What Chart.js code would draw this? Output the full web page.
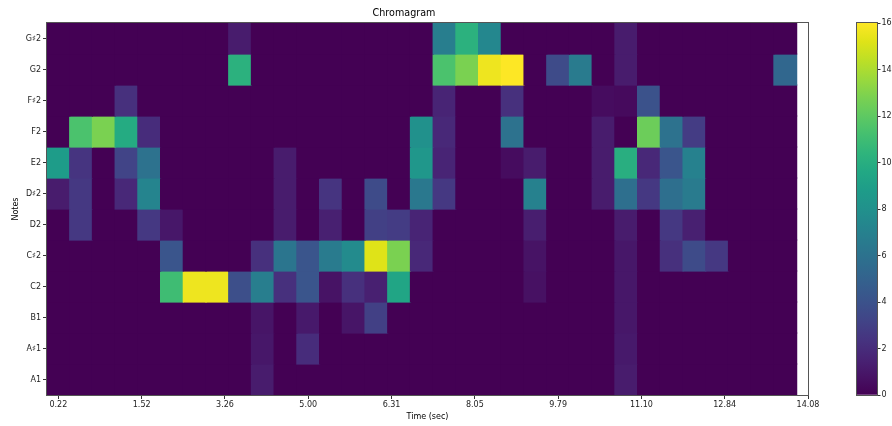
<!DOCTYPE html>
<html>
<head>
<meta charset="utf-8">
<title>Chromagram</title>
<script src="https://cdn.jsdelivr.net/npm/chart.js@4.4.1/dist/chart.umd.min.js"></script>
<style>
  html, body { margin: 0; padding: 0; background: #fff; }
  #wrap { position: relative; width: 892px; height: 426px; overflow: hidden; }
  #main { position: absolute; left: 0; top: 0; }
  #cbar { position: absolute; left: 840px; top: 0; }
</style>
</head>
<body>
<div id="wrap">
  <canvas id="main" width="892" height="426"></canvas>
  <canvas id="cbar" width="52" height="426"></canvas>
</div>
<script>
// Pitch classes, bottom row first
const noteLabels = ['A1', 'A\u266F1', 'B1', 'C2', 'C\u266F2', 'D2', 'D\u266F2', 'E2', 'F2', 'F\u266F2', 'G2', 'G\u266F2'];

// Labels printed under the evenly spaced time ticks
const timeLabels = ['0.22', '1.52', '3.26', '5.00', '6.31', '8.05', '9.79', '11.10', '12.84', '14.08'];

// Colour scale range and its ticks
const colorTicks = [0, 2, 4, 6, 8, 10, 12, 14, 16];

// Chroma energy per frame (33 frames) for each pitch class
const chromaA1  = [0,0,0,0,0,0,0,0,0,1.2, 0,0,0,0,0,0,0,0,0,0, 0,0,0,0,0,1.2,0,0,0,0, 0,0,0];
const chromaAs1 = [0,0,0,0,0,0,0,0,0,1, 0,2,0,0,0,0,0,0,0,0, 0,0,0,0,0,1.1,0,0,0,0, 0,0,0];
const chromaB1  = [0,0,0,0,0,0,0,0,0,0.9, 0,1.1,0,0.9,3,0,0,0,0,0, 0,0,0,0,0,1,0,0,0,0, 0,0,0];
const chromaC2  = [0,0,0,0,0,11,15.6,15.6,3.8,6.8, 2.2,4.2,0.8,2.2,1.4,9.4,0,0,0,0, 0,0.7,0,0,0,1,0,0,0,0, 0,0,0];
const chromaCs2 = [0,0,0,0,0,4.2,0,0,0,2.2, 6.2,4.2,6.6,7.6,15.2,12.8,1.8,0,0,0, 0,0.8,0,0,0,1,0,2.2,3.6,2.6, 0,0,0];
const chromaD2  = [0,2.6,0,0,2.6,1,0,0,0,0, 1.2,0,1.4,0,3,2.8,1.6,0,0,0, 0,1.3,0,0,0,1.2,0,2.6,1.4,0, 0,0,0];
const chromaDs2 = [1.2,2.6,0,1.8,7.2,0,0,0,0,0, 1.2,0,2.4,0,3.6,0,6.4,2.6,0,0, 0,7,0,0,1.2,5.8,2.6,5.8,6.6,0, 0,0,0];
const chromaE2  = [8.8,2.4,0,3.2,6,0,0,0,0,0, 1.2,0,0,0,0,0,8.4,1.6,0,0, 0.5,1.2,0,0,1.2,10,1.8,4.2,7,0, 0,0,0];
const chromaF2  = [0,11.4,12.8,9.8,2,0,0,0,0,0, 0,0,0,0,0,0,8,1.8,0,0, 6,0,0,0,1.2,0,12.4,6,2.8,0, 0,0,0];
const chromaFs2 = [0,0,0,2.2,0,0,0,0,0,0, 0,0,0,0,0,0,0,1.6,0,0, 2.2,0,0,0,0.5,0.4,4,0,0,0, 0,0,0];
const chromaG2  = [0,0,0,0,0,0,0,0,10.2,0, 0,0,0,0,0,0,0,11.4,12.8,15.6, 16,0,3.6,6.6,0,1.2,0,0,0,0, 0,0,5.3];
const chromaGs2 = [0,0,0,0,0,0,0,0,1.2,0, 0,0,0,0,0,0,0,6.8,10.2,7.4, 0,0,0,0,0,1.2,0,0,0,0, 0,0,0];

const chromaRows = [chromaA1, chromaAs1, chromaB1, chromaC2, chromaCs2, chromaD2,
                    chromaDs2, chromaE2, chromaF2, chromaFs2, chromaG2, chromaGs2];

// Viridis colour map
const viridisStops = ['#440154','#471365','#482475','#463480','#414487','#3b528b','#355f8d',
  '#2f6c8e','#2a788e','#25848e','#21918c','#1e9c89','#22a884','#2fb47c','#44bf70','#5ec962',
  '#7ad151','#9bd93c','#bddf26','#dfe318','#fde725'];

function hexToRgb(h) {
  return [parseInt(h.slice(1, 3), 16), parseInt(h.slice(3, 5), 16), parseInt(h.slice(5, 7), 16)];
}
function viridis(t) {
  t = Math.max(0, Math.min(1, t));
  const p = t * (viridisStops.length - 1);
  const i = Math.min(Math.floor(p), viridisStops.length - 2);
  const f = p - i;
  const a = hexToRgb(viridisStops[i]), b = hexToRgb(viridisStops[i + 1]);
  const c = a.map((v, k) => Math.round(v + (b[k] - v) * f));
  return `rgb(${c[0]},${c[1]},${c[2]})`;
}

const vMin = colorTicks[0];
const vMax = colorTicks[colorTicks.length - 1];
const frameCount = chromaRows[0].length;

// One floating bar per (frame, pitch class) cell
const cells = [];
chromaRows.forEach((vals, r) => {
  vals.forEach((v, i) => cells.push({ x: i, y: [r, r + 1], v }));
});

Chart.defaults.font.family = "'DejaVu Sans', sans-serif";
Chart.defaults.color = '#222';

// Thin box around a chart area
const framePlugin = {
  id: 'frame',
  afterDraw(chart, args, opts) {
    const { ctx, chartArea: a } = chart;
    ctx.save();
    ctx.strokeStyle = opts.color || '#555';
    ctx.lineWidth = 1;
    const l = Math.round(a.left) - 0.5, t = Math.round(a.top) - 0.5;
    const r = Math.round(a.right) + 0.5, b = Math.round(a.bottom) + 0.5;
    ctx.strokeRect(l, t, r - l, b - t);
    ctx.restore();
  }
};

const tickFont = { size: 8 };

new Chart(document.getElementById('main'), {
  type: 'bar',
  data: {
    datasets: [{
      data: cells,
      backgroundColor: cells.map(c => viridis((c.v - vMin) / (vMax - vMin))),
      borderWidth: 0,
      inflateAmount: 0.6,
      barPercentage: 1,
      categoryPercentage: 1
    }]
  },
  options: {
    responsive: false,
    animation: false,
    layout: { padding: { left: 0, right: 84, top: 0, bottom: 0 } },
    plugins: {
      legend: { display: false },
      tooltip: { enabled: false },
      title: {
        display: true,
        text: 'Chromagram',
        color: '#000',
        font: { size: 9.6, weight: 'normal' },
        padding: { top: 8, bottom: 3.5 }
      },
      frame: { color: '#555' }
    },
    scales: {
      x: {
        type: 'linear',
        min: -0.5,
        max: frameCount,
        offset: false,
        afterBuildTicks(scale) {
          scale.ticks = timeLabels.map((_, k) => ({ value: k * frameCount / (timeLabels.length - 1) }));
        },
        afterFit(scale) { scale.height = 31; },
        ticks: {
          autoSkip: false,
          maxRotation: 0,
          font: tickFont,
          padding: 1,
          callback: (value, index) => timeLabels[index]
        },
        grid: { drawOnChartArea: false, drawTicks: true, tickLength: 4, tickColor: '#333', offset: false },
        border: { display: false },
        title: {
          display: true,
          text: 'Time (sec)',
          color: '#000',
          font: { size: 8 },
          padding: { top: 0, bottom: 4 }
        }
      },
      y: {
        type: 'linear',
        min: 0,
        max: noteLabels.length,
        afterBuildTicks(scale) {
          scale.ticks = noteLabels.map((_, i) => ({ value: i + 0.5 }));
        },
        afterFit(scale) { scale.width = 47; },
        ticks: {
          autoSkip: false,
          font: tickFont,
          padding: 2,
          callback: (value, index) => noteLabels[index]
        },
        grid: { drawOnChartArea: false, drawTicks: true, tickLength: 4, tickColor: '#333' },
        border: { display: false },
        title: {
          display: true,
          text: 'Notes',
          color: '#000',
          font: { size: 8 },
          padding: { top: 11, bottom: 0 }
        }
      }
    }
  },
  plugins: [framePlugin]
});

// Colour bar
new Chart(document.getElementById('cbar'), {
  type: 'bar',
  data: {
    labels: ['scale'],
    datasets: [{
      data: [[vMin, vMax]],
      backgroundColor(c) {
        const { ctx, chartArea } = c.chart;
        if (!chartArea) return viridisStops[0];
        const g = ctx.createLinearGradient(0, chartArea.bottom, 0, chartArea.top);
        viridisStops.forEach((s, k) => g.addColorStop(k / (viridisStops.length - 1), s));
        return g;
      },
      borderWidth: 0,
      barPercentage: 1,
      categoryPercentage: 1
    }]
  },
  options: {
    responsive: false,
    animation: false,
    layout: { padding: { left: 17, right: 0, top: 23, bottom: 31 } },
    plugins: {
      legend: { display: false },
      tooltip: { enabled: false },
      frame: { color: '#555' }
    },
    scales: {
      x: { display: false },
      y: {
        position: 'right',
        min: vMin,
        max: vMax,
        afterBuildTicks(scale) {
          scale.ticks = colorTicks.map(v => ({ value: v }));
        },
        afterFit(scale) { scale.width = 15; },
        ticks: { font: tickFont, padding: 1, autoSkip: false },
        grid: { drawOnChartArea: false, drawTicks: true, tickLength: 3.5, tickColor: '#333' },
        border: { display: false }
      }
    }
  },
  plugins: [framePlugin]
});
</script>
</body>
</html>
